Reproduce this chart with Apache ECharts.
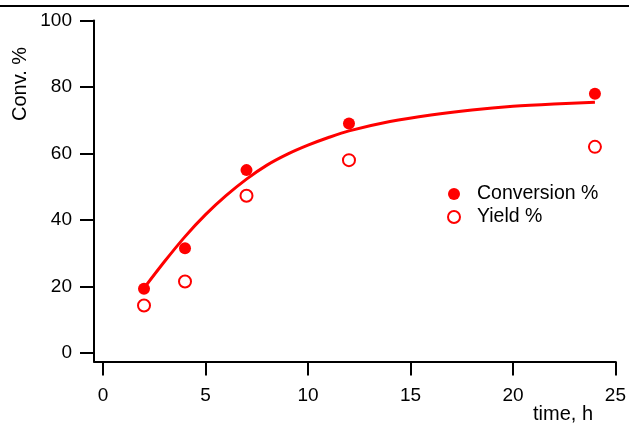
<!DOCTYPE html>
<html>
<head>
<meta charset="utf-8">
<script src="https://cdn.jsdelivr.net/npm/echarts@6/dist/echarts.min.js"></script>
<style>
  html, body { margin: 0; padding: 0; background: #fff; }
  #chart { width: 629px; height: 424px; }
</style>
</head>
<body>
<div id="chart"></div>
<script>
var timeH = [2, 4, 7, 12, 24];
var conversion = [19.3, 31.5, 55, 69, 78];
var yieldPct = [14.3, 21.5, 47.3, 58, 62];

// fitted curve
var fitTime = [2, 3, 4, 5, 6, 7, 8, 9, 10, 11, 12, 14, 16, 18, 20, 22, 24];
var fitConv = [19.5, 27.5, 35, 41.6, 47.3, 52.3, 56.5, 59.8, 62.5, 64.8, 66.8, 69.6, 71.6, 73.1, 74.2, 74.9, 75.4];

var xTicks = [0, 5, 10, 15, 20, 25];
var yTicks = [0, 20, 40, 60, 80, 100];

function pairs(xs, ys) {
    var res = [];
    for (var i = 0; i < xs.length; i++) {
        res.push([xs[i], ys[i]]);
    }
    return res;
}

var font = 'Liberation Sans, Arial, Helvetica, sans-serif';
var myChart = echarts.init(document.getElementById('chart'));

var option = {
    animation: false,
    grid: { left: 94, right: 12, top: 20.5, bottom: 62.5 },
    legend: {
        orient: 'vertical',
        left: 442,
        top: 179,
        itemWidth: 12,
        itemHeight: 12,
        itemGap: 3,
        textStyle: { fontFamily: font, fontSize: 19.5, color: '#000', padding: [0, 0, 0, 12] },
        data: [
            { name: 'Conversion %', icon: 'circle' },
            { name: 'Yield %', icon: 'emptyCircle' }
        ]
    },
    xAxis: {
        type: 'value',
        min: -0.44,
        max: 25,
        splitLine: { show: false },
        axisLine: { show: true, onZero: false, lineStyle: { color: '#000', width: 2 } },
        axisTick: { show: true, length: 14, customValues: xTicks, lineStyle: { color: '#000', width: 2 } },
        axisLabel: { customValues: xTicks, margin: 25, fontFamily: font, fontSize: 19, color: '#000' }
    },
    yAxis: {
        type: 'value',
        min: -2.56,
        max: 100,
        splitLine: { show: false },
        axisLine: { show: true, onZero: false, lineStyle: { color: '#000', width: 2 } },
        axisTick: { show: true, length: 14, customValues: yTicks, lineStyle: { color: '#000', width: 2 } },
        axisLabel: { customValues: yTicks, margin: 22, fontFamily: font, fontSize: 19, color: '#000' }
    },
    graphic: [
        { type: 'line', shape: { x1: 0, y1: 6, x2: 629, y2: 6 }, style: { stroke: '#000', lineWidth: 2 } },
        { type: 'text', x: 20, y: 84, rotation: Math.PI / 2,
          style: { text: 'Conv. %', font: '20px ' + font, fill: '#000', align: 'center', verticalAlign: 'middle' } },
        { type: 'text', x: 563, y: 414,
          style: { text: 'time, h', font: '20px ' + font, fill: '#000', align: 'center', verticalAlign: 'middle' } }
    ],
    series: [
        {
            name: 'fit',
            type: 'line',
            data: pairs(fitTime, fitConv),
            smooth: 0.3,
            showSymbol: false,
            silent: true,
            lineStyle: { color: '#ff0000', width: 3 },
            z: 1
        },
        {
            name: 'Conversion %',
            type: 'scatter',
            data: pairs(timeH, conversion),
            symbol: 'circle',
            symbolSize: 12,
            itemStyle: { color: '#ff0000', opacity: 1 },
            z: 3
        },
        {
            name: 'Yield %',
            type: 'scatter',
            data: pairs(timeH, yieldPct),
            symbol: 'emptyCircle',
            symbolSize: 12,
            itemStyle: { color: '#ff0000', borderColor: '#ff0000', borderWidth: 1, opacity: 1 },
            z: 3
        }
    ]
};

myChart.setOption(option);
window.addEventListener('resize', function () {
    myChart.resize();
});
</script>
</body>
</html>
